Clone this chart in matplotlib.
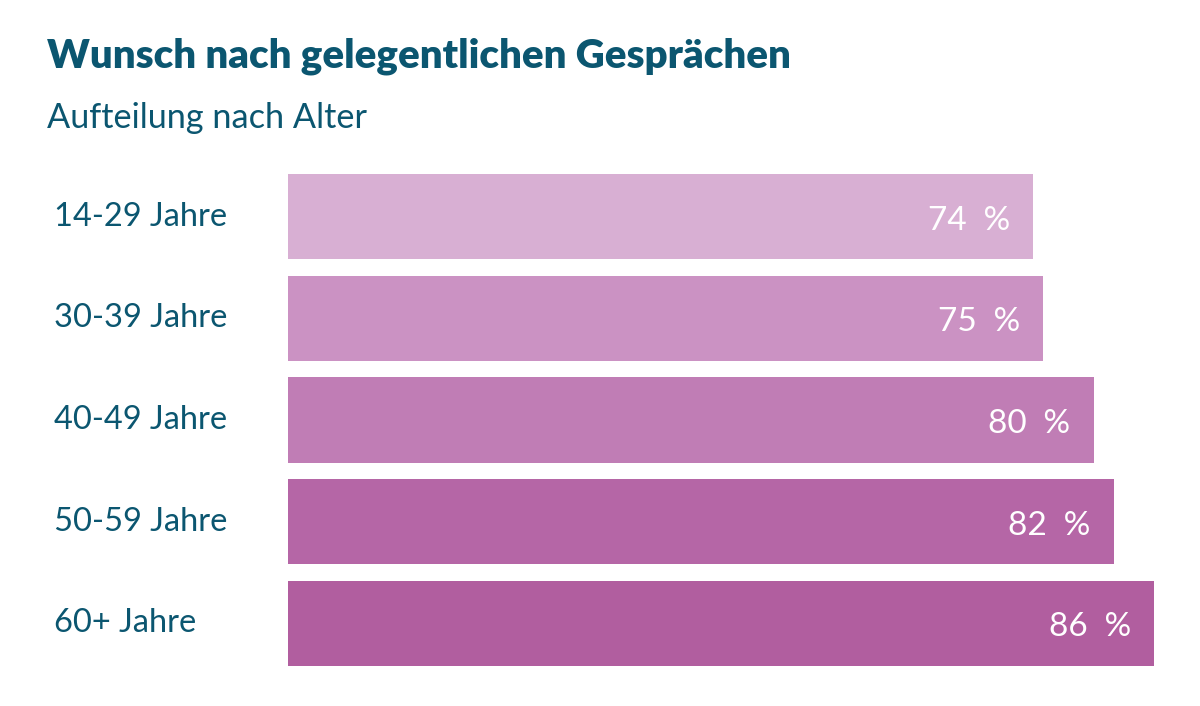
import matplotlib.pyplot as plt

# Daten
kategorien = ['14-29 Jahre', '30-39 Jahre', '40-49 Jahre', '50-59 Jahre', '60+ Jahre']
werte = [74, 75, 80, 82, 86]
farben = ['#D8AFD3', '#CB92C3', '#C07DB5', '#B566A6', '#B15E9F']

textfarbe = '#0B5670'
plt.rcParams['font.family'] = ['Lato', 'DejaVu Sans']

fig = plt.figure(figsize=(12, 7.06), dpi=100)
ax = fig.add_axes([288 / 1200, 1 - 666 / 706, (1154 - 288) / 1200, (666 - 174) / 706])

y = list(range(len(kategorien)))
ax.barh(y, werte, height=0.84, color=farben)
ax.set_xlim(0, max(werte))
ax.set_ylim(len(kategorien) - 0.58, -0.42)
ax.axis('off')

for i, (k, w) in enumerate(zip(kategorien, werte)):
    ax.text(w - 2.3, i + 0.04, f'{w}\u2002%', color='white', fontsize=24,
            ha='right', va='center')
    ax.text(-23.2, i, k, color=textfarbe, fontsize=23.5, ha='left', va='center')

fig.text(47 / 1200, 1 - 56 / 706, 'Wunsch nach gelegentlichen Gesprächen',
         color=textfarbe, fontsize=29, fontweight='heavy', ha='left', va='center')
fig.text(47 / 1200, 1 - 118 / 706, 'Aufteilung nach Alter',
         color=textfarbe, fontsize=24.7, ha='left', va='center')

fig.savefig('out.png', dpi=100, facecolor='white')
